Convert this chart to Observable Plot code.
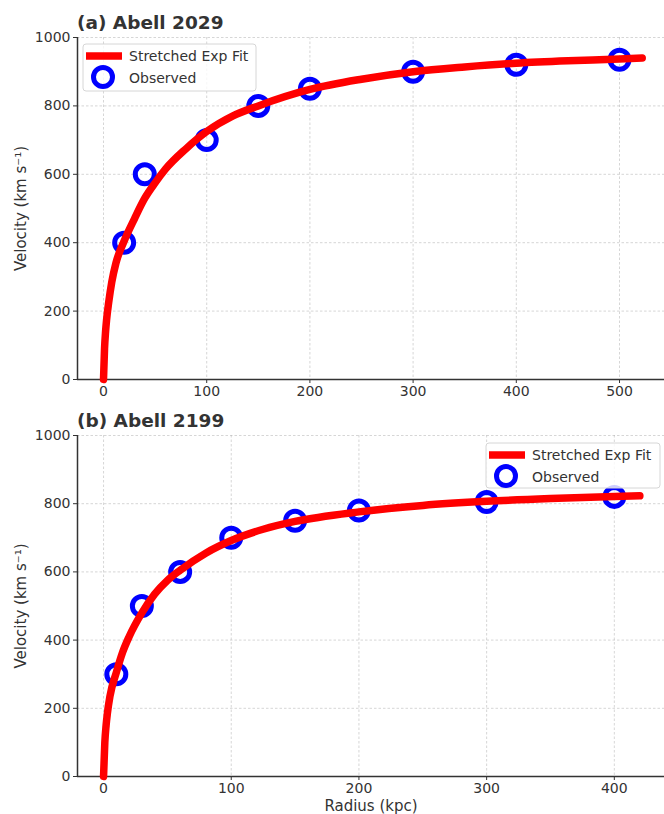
<!DOCTYPE html>
<html>
<head>
<meta charset="utf-8">
<script src="https://cdn.jsdelivr.net/npm/d3@7"></script>
<script src="https://cdn.jsdelivr.net/npm/@observablehq/plot@0.6"></script>
<style>
  body { margin: 0; background: #fff; }
  #chart { width: 664px; }
  #chart svg { display: block; }
</style>
</head>
<body>
<div id="chart"></div>
<script>
// ---- Data ----
const titles = ["(a) Abell 2029", "(b) Abell 2199"];
const yTicks = [0, 200, 400, 600, 800, 1000];
const xTicksA = [0, 100, 200, 300, 400, 500];
const xTicksB = [0, 100, 200, 300, 400];

// Abell 2029 observed
const obsRA = [20, 40, 100, 150, 200, 300, 400, 500];
const obsVA = [400, 600, 700, 800, 850, 900, 920, 935];
// Abell 2029 fitted curve
const fitRA = [0, 1, 2, 3, 5, 8, 12, 20, 30, 40, 50, 60, 80, 100, 125, 150, 200, 250, 300, 350, 400, 450, 500, 522];
const fitVA = [0, 90, 140, 175, 225, 285, 340, 405, 470, 530, 575, 615, 675, 725, 770, 800, 848, 878, 900, 914, 925, 932, 937, 940];

// Abell 2199 observed
const obsRB = [10, 30, 60, 100, 150, 200, 300, 400];
const obsVB = [300, 500, 600, 700, 750, 780, 805, 820];
// Abell 2199 fitted curve
const fitRB = [0, 1, 2, 3, 5, 10, 15, 20, 30, 40, 50, 60, 80, 100, 125, 150, 200, 250, 300, 350, 400, 420];
const fitVB = [0, 100, 150, 185, 235, 305, 365, 410, 480, 535, 575, 605, 655, 692, 725, 748, 776, 795, 807, 815, 821, 823];

const legendLabels = ["Stretched Exp Fit", "Observed"];

const FONT = "DejaVu Sans, sans-serif";
const TXT = "#333333";
const RED = "#ff0000";
const BLUE = "#0000ff";

function panel({title, obsR, obsV, fitR, fitV, xTicks, xDomain, height, marginTop, marginBottom, xLabel, legendPos}) {
  const obs = obsR.map((r, i) => ({r, v: obsV[i]}));
  const fit = fitR.map((r, i) => ({r, v: fitV[i]}));
  const plot = Plot.plot({
    width: 664,
    height,
    marginLeft: 77,
    marginRight: 0,
    marginTop,
    marginBottom,
    style: {fontFamily: FONT, fontSize: "14px", color: TXT, background: "white", overflow: "visible"},
    x: {domain: xDomain, ticks: xTicks},
    y: {domain: [0, 1000], ticks: yTicks},
    marks: [
      Plot.gridX(xTicks, {stroke: "#b0b0b0", strokeOpacity: 0.65, strokeDasharray: "2.5,2", strokeWidth: 0.8}),
      Plot.gridY(yTicks, {stroke: "#b0b0b0", strokeOpacity: 0.65, strokeDasharray: "2.5,2", strokeWidth: 0.8}),
      Plot.axisX(xTicks, {tickSize: 4, tickPadding: 3, stroke: TXT, fill: TXT, fontSize: 14, tickFormat: d3.format("d"),
        label: xLabel, labelAnchor: "center", labelArrow: "none", labelOffset: 34}),
      Plot.axisY(yTicks, {tickSize: 4, tickPadding: 3, stroke: TXT, fill: TXT, fontSize: 14, tickFormat: d3.format("d"),
        label: "Velocity (km s⁻¹)", labelAnchor: "center", labelArrow: "none", labelOffset: 62}),
      Plot.ruleX([xDomain[0]], {stroke: TXT, strokeWidth: 1.5}),
      Plot.ruleY([0], {stroke: TXT, strokeWidth: 1.5}),
      Plot.dot(obs, {x: "r", y: "v", r: 9.5, stroke: BLUE, strokeWidth: 5, fill: "none"}),
      Plot.line(fit, {x: "r", y: "v", stroke: RED, strokeWidth: 7.5, curve: "monotone-x"})
    ]
  });
  const svg = d3.select(plot);
  svg.selectAll('g[aria-label="y-axis label"] text, g[aria-label="x-axis label"] text')
    .attr("font-size", 15).style("font-size", "15px");
  svg.selectAll('g[aria-label="y-axis tick label"] text, g[aria-label="x-axis tick label"] text')
    .attr("font-size", 14).style("font-size", "14px");
  svg.append("text")
    .attr("x", 77).attr("y", marginTop - 8).attr("text-anchor", "start")
    .attr("font-family", FONT).attr("font-size", 18.5).attr("font-weight", "bold")
    .attr("fill", TXT).text(title);
  // legend
  const L = legendPos;
  const g = svg.append("g").attr("font-family", FONT).attr("font-size", 14).attr("fill", TXT).attr("text-anchor", "start");
  g.append("rect").attr("x", L.x).attr("y", L.y).attr("width", L.w).attr("height", L.h)
    .attr("rx", 3).attr("fill", "white").attr("fill-opacity", 0.8).attr("stroke", "#d6d6d6").attr("stroke-width", 1);
  g.append("line").attr("x1", L.x + 3).attr("x2", L.x + 39).attr("y1", L.y + 12).attr("y2", L.y + 12)
    .attr("stroke", RED).attr("stroke-width", 7.5);
  g.append("circle").attr("cx", L.x + 20).attr("cy", L.y + 33).attr("r", 9.5)
    .attr("fill", "none").attr("stroke", BLUE).attr("stroke-width", 5);
  g.append("text").attr("x", L.x + 46).attr("y", L.y + 17).attr("text-anchor", "start").text(legendLabels[0]);
  g.append("text").attr("x", L.x + 46).attr("y", L.y + 39).attr("text-anchor", "start").text(legendLabels[1]);
  return plot;
}

const chart = document.getElementById("chart");
chart.appendChild(panel({
  title: titles[0], obsR: obsRA, obsV: obsVA, fitR: fitRA, fitV: fitVA,
  xTicks: xTicksA, xDomain: [-25.2, 543.6], height: 400, marginTop: 37, marginBottom: 21,
  xLabel: null, legendPos: {x: 83, y: 44, w: 173, h: 47}
}));
chart.appendChild(panel({
  title: titles[1], obsR: obsRB, obsV: obsVB, fitR: fitRB, fitV: fitVB,
  xTicks: xTicksB, xDomain: [-20.4, 439.3], height: 414, marginTop: 35, marginBottom: 38,
  xLabel: "Radius (kpc)", legendPos: {x: 486, y: 43, w: 174, h: 45}
}));
</script>
</body>
</html>
